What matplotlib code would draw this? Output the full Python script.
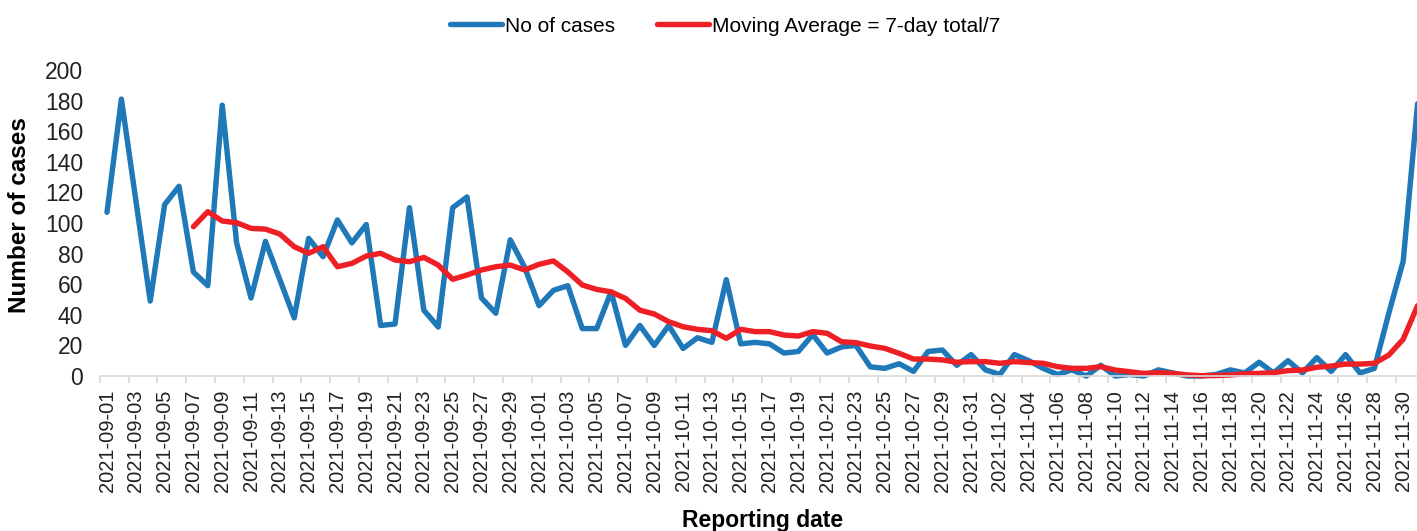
import numpy as np
import pandas as pd
import matplotlib
matplotlib.use("Agg")
import matplotlib.pyplot as plt

# reporting dates (one point per day)
dates = pd.date_range("2021-09-01", "2021-12-01", freq="D")
date_labels = [d.strftime("%Y-%m-%d") for d in dates]

# daily number of cases
cases = [107, 181, 115, 49, 112, 124, 68, 59, 177, 87,
         51, 88, 63, 38, 90, 78, 102, 87, 99, 33,
         34, 110, 43, 32, 110, 117, 51, 41, 89, 71,
         46, 56, 59, 31, 31, 55, 20, 33, 20, 33,
         18, 25, 22, 63, 21, 22, 21, 15, 16, 27,
         15, 19, 20, 6, 5, 8, 3, 16, 17, 7,
         14, 4, 1, 14, 10, 5, 1, 4, 0, 7,
         0, 1, 0, 4, 2, 0, 0, 1, 4, 2,
         9, 2, 10, 2, 12, 3, 14, 2, 5, 41,
         75, 178]

# 7-day moving average as drawn (starts on the 7th day)
moving_avg = [None] * 6 + [
    97.6, 107.4, 101.3, 100.2, 96.5, 96.0, 92.8, 84.5, 80.2, 84.5,
    71.4, 73.6, 78.4, 80.2, 75.8, 74.7, 77.5, 72.5, 63.2, 66.0,
    69.3, 71.4, 72.5, 69.3, 73.0, 75.2, 68.0, 59.5, 56.6, 55.0,
    50.7, 43.0, 40.5, 35.5, 32.2, 30.5, 29.6, 24.6, 30.5, 29.0,
    29.0, 26.8, 26.1, 29.0, 27.9, 22.4, 21.8, 19.6, 18.1, 14.8,
    11.1, 11.1, 10.5, 9.0, 9.4, 9.4, 8.3, 9.4, 8.8, 8.3,
    6.1, 5.0, 5.0, 6.1, 3.9, 2.8, 1.7, 2.2, 1.7, 0.7,
    0.2, 0.3, 0.7, 1.4, 1.7, 2.2, 3.5, 3.9, 5.7, 6.5,
    7.8, 7.8, 8.3, 13.7, 24.0, 46.0]

yticks = [0, 20, 40, 60, 80, 100, 120, 140, 160, 180, 200]

blue = "#1f78b8"
red = "#ee2026"
font = ["Liberation Sans", "DejaVu Sans"]

x = np.arange(len(dates))
ma = np.array([np.nan if v is None else v for v in moving_avg])

fig = plt.figure(figsize=(14.17, 5.31), dpi=100)
W, H = 1417, 531
ax = fig.add_axes([99.8 / W, 155 / H, 1325 / W, 306 / H])

ax.plot(x, cases, color=blue, lw=3.9, solid_joinstyle="round",
        solid_capstyle="round", label="No of cases", clip_on=False)
ax.plot(x, ma, color=red, lw=3.9, solid_joinstyle="round",
        solid_capstyle="round", label="Moving Average = 7-day total/7",
        clip_on=False)

ax.set_xlim(-0.5, len(dates) - 0.5)
ax.set_ylim(0, 200)

for s in ["top", "right", "left"]:
    ax.spines[s].set_visible(False)
ax.spines["bottom"].set_color("#d9d9d9")
ax.spines["bottom"].set_linewidth(1.2)

ax.set_yticks(yticks)
ax.set_yticklabels([str(v) for v in yticks], family=font, fontsize=16.5)
ax.tick_params(axis="y", length=0, pad=12, colors="#222222")

ax.set_xticks(x[::2])
ax.set_xticklabels(date_labels[::2], rotation=90, family=font, fontsize=14.5)
ax.set_xticks(np.arange(-0.5, len(dates), 2), minor=True)
ax.tick_params(axis="x", which="major", length=0, pad=10, colors="#222222")
ax.tick_params(axis="x", which="minor", length=5, color="#d9d9d9", width=1.2)

ax.set_ylabel("Number of cases", family=font, fontsize=17.5, fontweight="bold")
ax.yaxis.set_label_coords(-0.052, 0.525)
ax.set_xlabel("Reporting date", family=font, fontsize=16.5, fontweight="bold")
ax.xaxis.set_label_coords(0.5, -0.435)

fig.legend(loc="center", bbox_to_anchor=(0.512, 0.951), ncol=2, frameon=False,
           prop={"family": font, "size": 15}, handlelength=2.5,
           handletextpad=0.15, columnspacing=2.0)

fig.savefig("out.png", dpi=100)
